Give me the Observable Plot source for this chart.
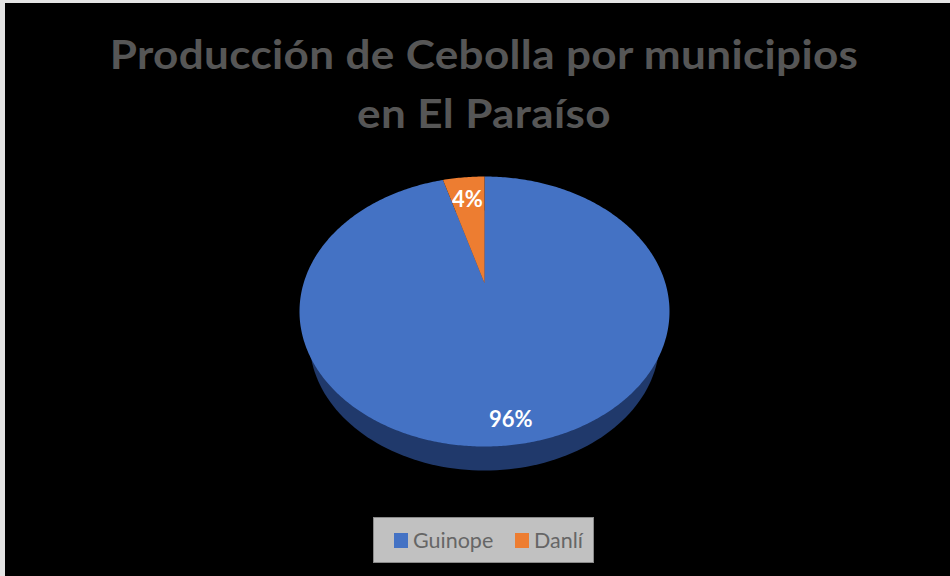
<!DOCTYPE html>
<html><head><meta charset="utf-8">
<script src="https://cdn.jsdelivr.net/npm/d3@7"></script>
<script src="https://cdn.jsdelivr.net/npm/@observablehq/plot@0.6"></script>
<style>
html,body{margin:0;padding:0;width:950px;height:576px;overflow:hidden;background:#e4e4e4;}
#bg{position:absolute;left:5px;top:3px;width:945px;height:573px;background:#000;}
#chart{position:absolute;left:0;top:0;}
#title{position:absolute;left:5px;top:25px;width:958px;text-align:center;font:bold 40px/59px Lato,sans-serif;color:#565656;letter-spacing:.3px;transform:scaleX(1.102);transform-origin:479px 0;}
#legend{position:absolute;left:373px;top:517px;width:221px;height:46px;box-sizing:border-box;background:#c1c1c1;border:1px solid #8a8a8a;font:21.5px/46px Lato,sans-serif;color:#666;}
#legend span{position:absolute;top:-1px;}
#legend i{position:absolute;top:15px;width:14px;height:15px;}
</style></head><body>
<div id="bg"></div><div id="chart"></div>
<div id="title">Producción de Cebolla por municipios<br>en El Paraíso</div>
<div id="legend"></div>
<script>
const categories = ["Guinope", "Danlí"];
const shares = [96.4, 3.6];
const labels = ["96%", "4%"];
const colors = ["#4472C4", "#ED7D31"];
const sideColor = "#20396B";

// Tilted pie geometry (unit ellipse; the apex sits above the ellipse's centre)
const apex = [0, 0.21];
const rim = a => [Math.sin(a), Math.cos(a)];
const total = d3.sum(shares);
const labelNudge = [0.05, 0];
let start = 0;
const outline = [], labelPts = [];
categories.forEach((name, i) => {
  const end = start + shares[i] / total * 2 * Math.PI;
  outline.push({name, x: apex[0], y: apex[1]});
  const n = Math.ceil((end - start) * 90);
  for (let k = 0; k <= n; k++) {
    const [x, y] = rim(start + (end - start) * k / n);
    outline.push({name, x, y});
  }
  const [mx, my] = rim((start + end) / 2);
  labelPts.push({label: labels[i],
    x: apex[0] + (mx - apex[0]) * 0.82 + labelNudge[i],
    y: apex[1] + (my - apex[1]) * 0.82});
  start = end;
});
const side = d3.range(0, 361, 2).map(d => {
  const a = d * Math.PI / 180;
  return {x: 0.946 * Math.cos(a), y: -0.215 + 0.963 * Math.sin(a)};
});

const plot = Plot.plot({
  width: 950, height: 576,
  marginTop: 0, marginRight: 0, marginBottom: 0, marginLeft: 0,
  style: {background: "transparent"},
  x: {domain: [-1, 1], range: [299, 669], axis: null},
  y: {domain: [-1, 1], range: [446, 176], axis: null},
  color: {domain: categories, range: colors},
  marks: [
    Plot.line(side, {x: "x", y: "y", fill: sideColor, stroke: null}),
    Plot.line(outline, {x: "x", y: "y", z: "name", fill: "name", stroke: null}),
    Plot.text(labelPts, {x: "x", y: "y", text: "label", dy: 4, fill: "#fff",
      fontFamily: "Lato, sans-serif", fontWeight: "bold", fontSize: 22})
  ]
});
document.getElementById("chart").append(plot);

const legend = document.getElementById("legend");
const swatchX = [20, 141], textX = [39, 160];
categories.forEach((name, i) => {
  const sw = document.createElement("i");
  sw.style.left = swatchX[i] + "px";
  sw.style.background = colors[i];
  const t = document.createElement("span");
  t.style.left = textX[i] + "px";
  t.textContent = name;
  legend.append(sw, t);
});
</script>
</body></html>
